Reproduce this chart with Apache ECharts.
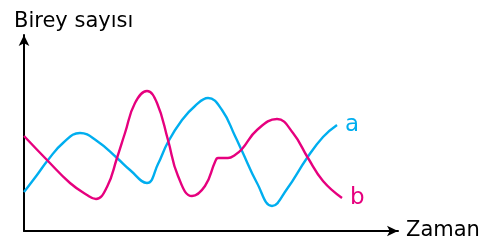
<!DOCTYPE html>
<html>
<head>
<meta charset="utf-8">
<script src="https://cdn.jsdelivr.net/npm/echarts@6/dist/echarts.min.js"></script>
<style>
  html, body { margin: 0; padding: 0; background: #fff; }
  #container { width: 486px; height: 243px; }
</style>
</head>
<body>
<div id="container"></div>
<script>
// zaman (x) ve birey sayısı (y), keyfi birimler, resimden okunan noktalar
var seriesA = [[0, 39], [13, 56], [24, 71], [39, 88], [56, 98], [73, 90], [93, 73], [106, 61], [123, 48],
  [134, 67], [144, 89], [158, 111], [171, 125], [184, 133], [198, 121], [211, 95], [218, 80], [233, 48],
  [248, 25], [263, 42], [283, 73], [299, 94], [313, 106]];
var seriesB = [[0, 95], [23, 71], [46, 48], [63, 36], [72, 32], [83, 44], [93, 73], [101, 98], [111, 128],
  [123, 140], [133, 128], [144, 91], [154, 55], [168, 35], [181, 45], [191, 69], [194, 73], [204, 73],
  [211, 76], [218, 82], [233, 101], [253, 112], [269, 98], [284, 73], [299, 50], [318, 33]];
var names = ['a', 'b'];
var colors = ['#00aeef', '#e6007e'];

var dom = document.getElementById('container');
var myChart = echarts.init(dom, null, { renderer: 'canvas' });

var axisLine = {
  show: true,
  symbol: ['none', 'arrow'],
  symbolSize: [8, 11],
  lineStyle: { color: '#000', width: 2 }
};

function makeSeries(name, data, color) {
  return {
    name: name,
    type: 'line',
    data: data,
    smooth: 0.45,
    showSymbol: false,
    lineStyle: { color: color, width: 2.4 },
    endLabel: {
      show: true,
      formatter: name,
      color: color,
      fontSize: 23,
      fontFamily: 'DejaVu Sans',
      distance: 8
    },
    silent: true
  };
}

var option = {
  animation: false,
  grid: { left: 24, top: 35, right: 88, bottom: 12 },
  xAxis: {
    type: 'value',
    min: 0,
    max: 374,
    name: 'Zaman',
    nameLocation: 'end',
    nameGap: 8,
    nameTextStyle: { color: '#000', fontSize: 21, fontFamily: 'DejaVu Sans', verticalAlign: 'middle' },
    axisLine: axisLine,
    axisTick: { show: false },
    axisLabel: { show: false },
    splitLine: { show: false }
  },
  yAxis: {
    type: 'value',
    min: 0,
    max: 196,
    name: 'Birey sayısı',
    nameLocation: 'end',
    nameGap: 3,
    nameTextStyle: { color: '#000', fontSize: 21, fontFamily: 'DejaVu Sans', align: 'left', padding: [0, 0, 0, -10] },
    axisLine: axisLine,
    axisTick: { show: false },
    axisLabel: { show: false },
    splitLine: { show: false }
  },
  series: [
    makeSeries(names[0], seriesA, colors[0]),
    makeSeries(names[1], seriesB, colors[1])
  ]
};

myChart.setOption(option);
window.addEventListener('resize', myChart.resize);
</script>
</body>
</html>
